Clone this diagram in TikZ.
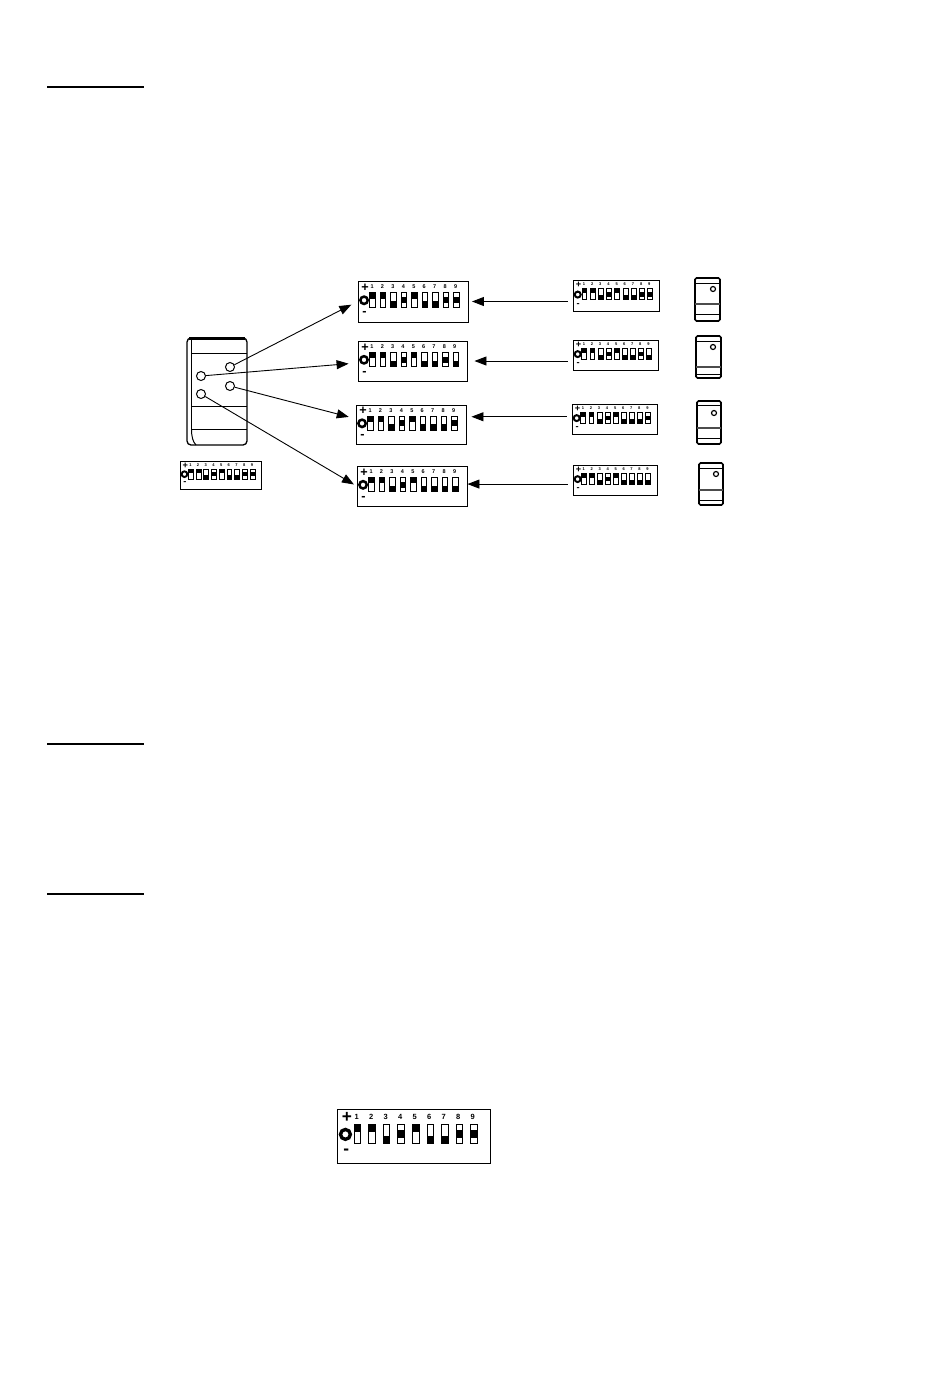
\documentclass[tikz,border=0pt]{standalone}
\usepackage{xcolor}
\usepackage{fontspec}
\setmainfont{Liberation Sans}
\usetikzlibrary{arrows.meta}

% fill start of a switch slider, as a fraction of its height
\def\slidert{0}
\def\sliderm{.30}
\def\sliderb{.58}

% name, left, top, right, bottom, font size, switch states
\newcommand{\dipswitch}[7]{
  \pgfmathsetmacro{\boxw}{#4-#2}
  \pgfmathsetmacro{\boxh}{#5-#3}
  \pgfmathsetmacro{\slidew}{3+.023*\boxw}
  \pgfmathsetmacro{\signsize}{#6*2.3}
  \pgfmathsetmacro{\holesize}{.058*\boxw+1}
  \pgfmathsetmacro{\holeline}{.02*\boxw+.3}
  \node[dipbox, minimum width=\boxw pt, minimum height=\boxh pt] (#1) at ({(#2+#4)/2},{(#3+#5)/2}) {};
  \node[diplabel, font=\bfseries\fontsize{\signsize}{\signsize}\selectfont] (#1plus) at ({#2+.065*\boxw},{#3+.16*\boxh}) {+};
  \node[diplabel, font=\bfseries\fontsize{\signsize}{\signsize}\selectfont] (#1minus) at ({#2+.06*\boxw},{#3+.80*\boxh}) {-};
  \node[diphole, minimum size=\holesize pt, line width=\holeline pt] (#1hole) at ({#2+.055*\boxw},{#3+.47*\boxh}) {};
  \foreach \s [count=\i] in {#7} {
    \pgfmathsetmacro{\slidex}{#2+(.132+(\i-1)*.0955)*\boxw}
    \pgfmathsetmacro{\digitx}{#2+(.128+(\i-1)*.0949)*\boxw}
    \pgfmathsetmacro{\slidey}{#3+.285*\boxh}
    \pgfmathsetmacro{\slidel}{.355*\boxh}
    \pgfmathsetmacro{\fillstart}{\slidey+\csname slider\s\endcsname*\slidel}
    \node[diplabel, font=\bfseries\fontsize{#6}{#6}\selectfont] (#1num\i) at (\digitx,{#3+.14*\boxh}) {\i};
    \fill (\slidex-\slidew/2,\fillstart) rectangle (\slidex+\slidew/2,\fillstart+.42*\slidel);
    \draw[line width=.7pt] (\slidex-\slidew/2,\slidey) rectangle (\slidex+\slidew/2,\slidey+\slidel);
  }
}

% name, left, top, right, bottom, upper line, two lower lines
\newcommand{\sidecase}[8]{
  \node[casebox, minimum width={(#4-#2)*1pt}, minimum height={(#5-#3)*1pt}] (#1) at ({(#2+#4)/2},{(#3+#5)/2}) {};
  \draw (#2,#6) -- (#4,#6);
  \draw[line width=1.3pt, black!70] (#2,#7) -- (#4,#7);
  \draw (#2,#8) -- (#4,#8);
}

\begin{document}
\begin{tikzpicture}[
  x=1pt, y=-1pt,
  dipbox/.style={draw, line width=.9pt, inner sep=0pt},
  diplabel/.style={inner sep=0pt},
  diphole/.style={circle, draw, inner sep=0pt},
  casebox/.style={draw, line width=1.7pt, rounded corners=1.5pt, inner sep=0pt},
  porthole/.style={circle, draw, line width=1pt, inner sep=0pt, minimum size=9pt},
  tinyhole/.style={circle, draw, line width=1.2pt, inner sep=0pt, minimum size=5pt},
  arrow/.style={-{Triangle[length=12pt,width=9pt]}, line width=.9pt},
  rule/.style={line width=1.4pt}
]
  \useasboundingbox[fill=white] (0,0) rectangle (950,1387);

  % section rules
  \draw[rule] (47,87) -- (144,87);
  \draw[rule] (47,744) -- (144,744);
  \draw[rule] (47,894) -- (144,894);

  % front of the unit
  \node[casebox, line width=1.3pt, rounded corners=4pt, minimum width=60pt, minimum height=107pt] (unit) at (217,391.5) {};
  \draw[line width=2.2pt] (189,338.5) -- (245,338.5);
  \draw[line width=1pt] (191.5,339) -- (191.5,429);
  \draw[line width=1pt] (191.5,429) .. controls (191.5,437) and (193,442) .. (196,445);
  \draw[line width=1pt] (191.5,353) -- (247,353);
  \draw[line width=.7pt] (191.5,406) -- (247,406);
  \draw[line width=1pt] (191.5,429) -- (247,429);
  \node[porthole] (port1) at (230,367) {};
  \node[porthole] (port2) at (201,376) {};
  \node[porthole] (port3) at (230,386) {};
  \node[porthole] (port4) at (201,394) {};

  \dipswitch{unitsw}{180}{461}{261}{489}{4}{t,t,b,m,t,b,b,m,m}

  % large switch blocks
  \dipswitch{big1}{358}{281}{468}{322}{5.5}{t,t,b,m,t,b,b,m,m}
  \dipswitch{big2}{358}{341}{467}{381}{5.5}{t,t,b,m,t,b,b,m,b}
  \dipswitch{big3}{356}{405}{466}{444}{5.5}{t,t,b,m,t,b,b,b,m}
  \dipswitch{big4}{357}{466}{467}{506}{5.5}{t,t,b,m,t,b,b,b,b}

  % small switch blocks
  \dipswitch{small1}{573}{280}{659}{311}{4}{t,t,b,m,t,b,b,m,m}
  \dipswitch{small2}{573}{340}{658}{370}{4}{t,t,b,m,t,b,b,m,b}
  \dipswitch{small3}{572}{404}{657}{434}{4}{t,t,b,m,t,b,b,b,m}
  \dipswitch{small4}{573}{465}{657}{495}{4}{t,t,b,m,t,b,b,b,b}

  % side views
  \sidecase{side1}{695}{278}{720}{321}{283}{304}{314}
  \node[tinyhole] (sidehole1) at (713,289) {};
  \sidecase{side2}{696}{336}{721}{378}{341}{367}{374}
  \node[tinyhole] (sidehole2) at (713,347) {};
  \sidecase{side3}{697}{401}{721}{444}{405}{428}{438}
  \node[tinyhole] (sidehole3) at (714,413) {};
  \sidecase{side4}{699}{463}{723}{505}{468}{490}{500}
  \node[tinyhole] (sidehole4) at (716,474) {};

  % lone block at the bottom
  \dipswitch{lone}{337}{1109}{490}{1163}{7.5}{t,t,b,m,t,b,b,m,m}

  \draw[arrow, shorten >=7pt] (port1) -- (big1.west);
  \draw[arrow, shorten >=9pt] (port2) -- (big2.182);
  \draw[arrow, shorten >=7pt] (port3) -- (big3.174);
  \draw[arrow, shorten >=3pt] (port4) -- (big4.west);

  \draw[arrow, shorten <=5pt, shorten >=3.5pt] (big1.east -| small1.west) -- (big1.east);
  \draw[arrow, shorten <=5pt, shorten >=7pt] (big2.east -| small2.west) -- (big2.east);
  \draw[arrow, shorten <=5pt, shorten >=5pt] (small3.177) -- (small3.177 -| big3.east);
  \draw[arrow, shorten <=5pt] (big4.2 -| small4.west) -- (big4.2);
\end{tikzpicture}
\end{document}
